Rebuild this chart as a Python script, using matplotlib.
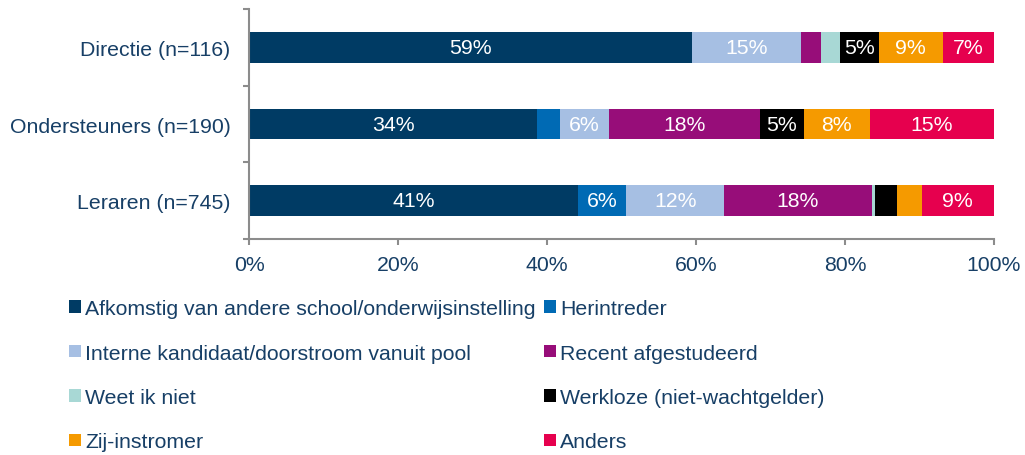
import numpy as np
import matplotlib
matplotlib.use("Agg")
import matplotlib.pyplot as plt
from matplotlib.patches import Patch

plt.rcParams['font.family'] = ['Liberation Sans', 'DejaVu Sans']

groups = ["Directie (n=116)", "Ondersteuners (n=190)", "Leraren (n=745)"]
series = ["Afkomstig van andere school/onderwijsinstelling", "Herintreder",
          "Interne kandidaat/doorstroom vanuit pool", "Recent afgestudeerd",
          "Weet ik niet", "Werkloze (niet-wachtgelder)", "Zij-instromer", "Anders"]
colors = ["#003b64", "#006ab4", "#a6bfe3", "#970d79", "#a8d8d5", "#000000", "#f59a00", "#e6004e"]

# raw percentages per group (chart shows them as 100% stacked)
directie = [59.4, 0.0, 14.7, 2.6, 2.6, 5.2, 8.6, 6.9]
ondersteuners = [34.2, 2.7, 5.8, 17.9, 0.0, 5.2, 7.9, 14.7]
leraren = [40.8, 6.0, 12.2, 18.3, 0.4, 2.8, 3.0, 9.0]

data = np.array([directie, ondersteuners, leraren])
shares = data / data.sum(axis=1, keepdims=True) * 100

txt = "#173f66"
axc = "#8c8c8c"

fig = plt.figure(figsize=(10.25, 4.56), dpi=100)
ax = fig.add_axes([0.2432, 0.4743, 0.7266, 0.5031])

ypos = np.arange(len(groups))
left = np.zeros(len(groups))
for j in range(len(series)):
    ax.barh(ypos, shares[:, j], left=left, height=0.4, color=colors[j], edgecolor="none")
    for i in range(len(groups)):
        if data[i, j] >= 4.5:
            ax.text(left[i] + shares[i, j] / 2, ypos[i], "{:.0f}%".format(data[i, j]),
                    ha="center", va="center", color="white", fontsize=15.3)
    left += shares[:, j]

ax.set_xlim(0, 100)
ax.set_ylim(2.5, -0.5)
ax.set_xticks(np.arange(0, 101, 20))
ax.set_xticklabels(["{}%".format(v) for v in range(0, 101, 20)])
ax.set_yticks(ypos)
ax.set_yticklabels(groups)
ax.set_yticks([-0.5, 0.5, 1.5, 2.5], minor=True)

for s in ["top", "right"]:
    ax.spines[s].set_visible(False)
for s in ["left", "bottom"]:
    ax.spines[s].set_color(axc)
    ax.spines[s].set_linewidth(1.5)

ax.tick_params(axis="y", which="major", length=0, pad=13.5, labelsize=15.3, labelcolor=txt)
ax.tick_params(axis="y", which="minor", length=4.5, width=1.5, color=axc)
ax.tick_params(axis="x", length=4, width=1.5, color=axc, pad=8, labelsize=15.3, labelcolor=txt)

order = [0, 2, 4, 6, 1, 3, 5, 7]
handles = [Patch(facecolor=colors[k], edgecolor="none", label=series[k]) for k in order]
fig.legend(handles=handles, loc="upper left", bbox_to_anchor=(69.3 / 1025, 1 - 300 / 456),
           ncol=2, frameon=False, fontsize=15.3, labelcolor=txt, borderpad=0, borderaxespad=0,
           handlelength=0.55, handleheight=0.55, handletextpad=0.2, columnspacing=0.4,
           labelspacing=1.2)

fig.savefig("out.png", dpi=100)
